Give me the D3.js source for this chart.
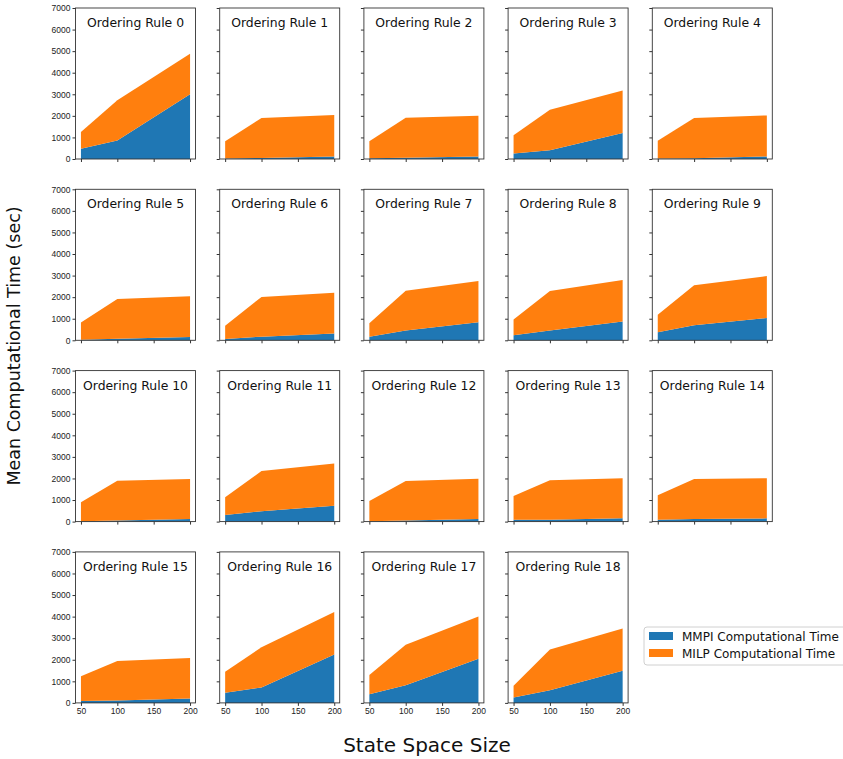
<!DOCTYPE html>
<html lang="en">
<head>
<meta charset="UTF-8">
<title>Ordering rules - computational time</title>
<script src="https://d3js.org/d3.v7.min.js"></script>
<style>
    body{ margin:0; background:#fff; }
    svg{ font-family:"DejaVu Sans", sans-serif; }
    .tick text{ font-size:8.5px; fill:#222; }
    .tick line{ stroke:#333; }
    .domain{ display:none; }
</style>
</head>
<body>
<svg id="chart" width="843" height="759"></svg>
<script>
// state space sizes on the x axis
const sizes = [50, 100, 200];
const xTicks = [50, 100, 150, 200];
const yTicks = [0, 1000, 2000, 3000, 4000, 5000, 6000, 7000];
const rules = d3.range(19).map(i => 'Ordering Rule ' + i);
const seriesNames = ['MMPI Computational Time', 'MILP Computational Time'];

// mean MMPI time per rule (sec), at 50/100/200
const mmpi = [
    [480, 860, 3000], [20, 50, 120], [30, 60, 120], [260, 400, 1200], [20, 40, 120],
    [20, 70, 150], [60, 170, 310], [170, 460, 840], [230, 450, 870], [370, 700, 1035],
    [20, 50, 120], [310, 480, 740], [20, 50, 120], [80, 90, 150], [80, 120, 150],
    [90, 110, 200], [470, 715, 2240], [400, 820, 2050], [250, 590, 1490]
];
// mean MILP time per rule (sec), stacked on top of MMPI
const milp = [
    [770, 1860, 1880], [800, 1850, 1920], [790, 1850, 1890], [840, 1880, 1980], [830, 1860, 1900],
    [800, 1840, 1890], [620, 1840, 1900], [620, 1840, 1910], [730, 1840, 1930], [820, 1850, 1945],
    [880, 1840, 1860], [820, 1860, 1950], [940, 1830, 1870], [1110, 1830, 1860], [1140, 1850, 1860],
    [1150, 1830, 1880], [970, 1865, 1970], [890, 1870, 1960], [540, 1880, 1960]
];

const colors = ['#1f77b4', '#ff7f0e'];
const svg = d3.select('#chart');

const pw = 120, ph = 151;
const left0 = 75.5, top0 = 8, dx = 144.2, dy = 181.3;
const ncol = 5, nrow = 4;

const x = d3.scaleLinear().domain([42.5, 207.5]).range([0, pw]);
const y = d3.scaleLinear().domain([0, 7000]).range([ph, 0]);

const stack = d3.stack().keys([0, 1]).value((d, k) => d[k]);
const area = d3.area()
    .x(d => x(d.data.size))
    .y0(d => y(d[0]))
    .y1(d => y(d[1]));

rules.forEach((name, i) => {
    const col = i % ncol, row = Math.floor(i / ncol);
    const g = svg.append('g')
        .attr('transform', 'translate(' + (left0 + col * dx) + ',' + (top0 + row * dy) + ')');

    const rows = sizes.map((s, j) => ({size: s, 0: mmpi[i][j], 1: milp[i][j]}));
    const layers = stack(rows);

    g.selectAll('.layer')
        .data(layers).enter()
        .append('path')
        .attr('class', 'layer')
        .attr('fill', (d, k) => colors[k])
        .attr('d', area);

    // show labels only on left column and bottom panels
    const showY = col === 0;
    const showX = row === nrow - 1;

    g.append('g')
        .call(d3.axisLeft(y).tickValues(yTicks).tickSize(3).tickPadding(2)
            .tickFormat(showY ? d3.format('d') : ''));
    g.append('g')
        .attr('transform', 'translate(0,' + ph + ')')
        .call(d3.axisBottom(x).tickValues(xTicks).tickSize(3).tickPadding(2)
            .tickFormat(showX ? d3.format('d') : ''));

    g.append('rect')
        .attr('width', pw).attr('height', ph)
        .attr('fill', 'none')
        .attr('stroke', '#333')
        .attr('stroke-width', 0.9);

    g.append('text')
        .attr('x', pw / 2).attr('y', 19)
        .attr('text-anchor', 'middle')
        .attr('font-size', 12.4)
        .attr('fill', '#111')
        .text(name);
});

// legend
const leg = svg.append('g').attr('transform', 'translate(644,627)');
leg.append('rect')
    .attr('width', 210).attr('height', 38).attr('rx', 3)
    .attr('fill', '#fff').attr('stroke', '#d0d0d0');
seriesNames.forEach((n, k) => {
    leg.append('rect')
        .attr('x', 5).attr('y', 5 + k * 17)
        .attr('width', 24).attr('height', 8)
        .attr('fill', colors[k]);
    leg.append('text')
        .attr('x', 38).attr('y', 13.5 + k * 17)
        .attr('font-size', 12)
        .attr('fill', '#111')
        .text(n);
});

// axis titles
svg.append('text')
    .attr('transform', 'translate(20,346) rotate(-90)')
    .attr('text-anchor', 'middle')
    .attr('font-size', 17.5)
    .attr('fill', '#111')
    .text('Mean Computational Time (sec)');
svg.append('text')
    .attr('x', 427).attr('y', 752)
    .attr('text-anchor', 'middle')
    .attr('font-size', 20)
    .attr('fill', '#111')
    .text('State Space Size');
</script>
</body>
</html>
